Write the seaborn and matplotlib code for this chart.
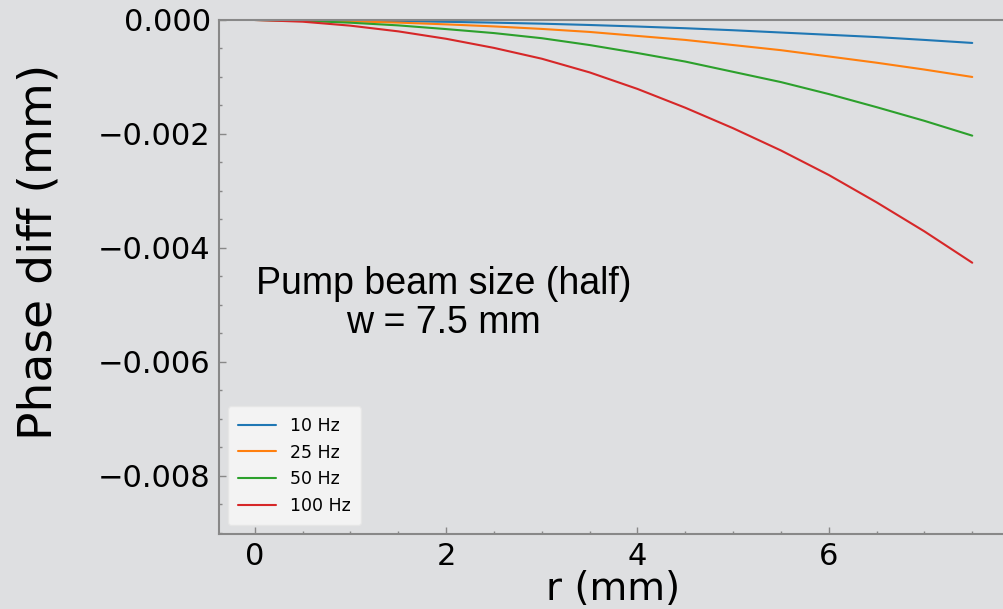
import matplotlib
matplotlib.use("Agg")
import matplotlib.pyplot as plt
from matplotlib.ticker import AutoMinorLocator
import seaborn as sns
import pandas as pd

# values
r_mm = [0.0, 0.5, 1.0, 1.5, 2.0, 2.5, 3.0, 3.5, 4.0, 4.5, 5.0, 5.5, 6.0, 6.5, 7.0, 7.5]
hz10 = [0, -0.000003, -0.00001, -0.00002, -0.000032, -0.000047, -0.000065, -0.000088,
        -0.000115, -0.000145, -0.00018, -0.00022, -0.00026, -0.00030, -0.00035, -0.000403]
hz25 = [0, -0.000007, -0.000023, -0.000046, -0.000077, -0.000113, -0.000157, -0.00021,
        -0.00028, -0.00035, -0.00044, -0.00053, -0.00064, -0.00075, -0.00087, -0.00100]
hz50 = [0, -0.000014, -0.000048, -0.000095, -0.00016, -0.00023, -0.00032, -0.00044,
        -0.00058, -0.00073, -0.00091, -0.00109, -0.00130, -0.00153, -0.00177, -0.00203]
hz100 = [0, -0.00003, -0.00010, -0.00020, -0.00033, -0.00049, -0.00068, -0.00092,
         -0.00121, -0.00154, -0.00190, -0.00229, -0.00272, -0.00320, -0.00371, -0.00426]
labels = ["10 Hz", "25 Hz", "50 Hz", "100 Hz"]

# long-form dataframe for seaborn
frames = []
for lab, vals in zip(labels, [hz10, hz25, hz50, hz100]):
    frames.append(pd.DataFrame({"r": r_mm, "phase": vals, "freq": lab}))
df = pd.concat(frames, ignore_index=True)

sns.set_style('ticks')
plt.rcParams['font.family'] = ['DejaVu Sans']
plt.rcParams['text.color'] = 'black'
plt.rcParams['axes.labelcolor'] = 'black'
bg = '#dedfe1'

fig = plt.figure(figsize=(10.04, 6.09), dpi=100, facecolor=bg)
ax = fig.add_axes([0.2181, 0.1232, 0.786, 0.844])
ax.set_facecolor(bg)

sns.lineplot(data=df, x="r", y="phase", hue="freq", hue_order=labels,
             palette="tab10", linewidth=1.5, ax=ax)

ax.set_ylim(-0.00902, 0)
ax.set_xlim(-0.375, 7.875)
ax.set_yticks([0, -0.002, -0.004, -0.006, -0.008])
ax.set_yticklabels(['0.000', '\u22120.002', '\u22120.004', '\u22120.006', '\u22120.008'])
ax.xaxis.set_minor_locator(AutoMinorLocator(4))
ax.yaxis.set_minor_locator(AutoMinorLocator(4))
ax.tick_params(which='major', direction='in', length=5, width=1, color='#888888',
               labelsize=22, pad=6, labelcolor='black')
ax.tick_params(which='minor', direction='in', length=2.5, width=1, color='#888888')
for s in ax.spines.values():
    s.set_color('#888888')
    s.set_linewidth(1.5)
ax.spines['right'].set_visible(False)

ax.set_xlabel('r (mm)', fontsize=28, labelpad=-1, color='black')
ax.set_ylabel('Phase diff (mm)', fontsize=34, color='black')
ax.yaxis.set_label_coords(-0.199, 0.549)

leg = ax.legend(loc='lower left', fontsize=12.5, frameon=True, facecolor='#f6f6f6',
                edgecolor='#e6e6e6', framealpha=0.9, borderpad=0.6, handlelength=2.2)

ax.text(1.97, -0.00498, "Pump beam size (half)\nw = 7.5 mm", ha='center', va='center',
        multialignment='center', fontsize=27, family='Liberation Sans', linespacing=1.12,
        color='black')

fig.savefig("out.png", dpi=100, facecolor=bg)
